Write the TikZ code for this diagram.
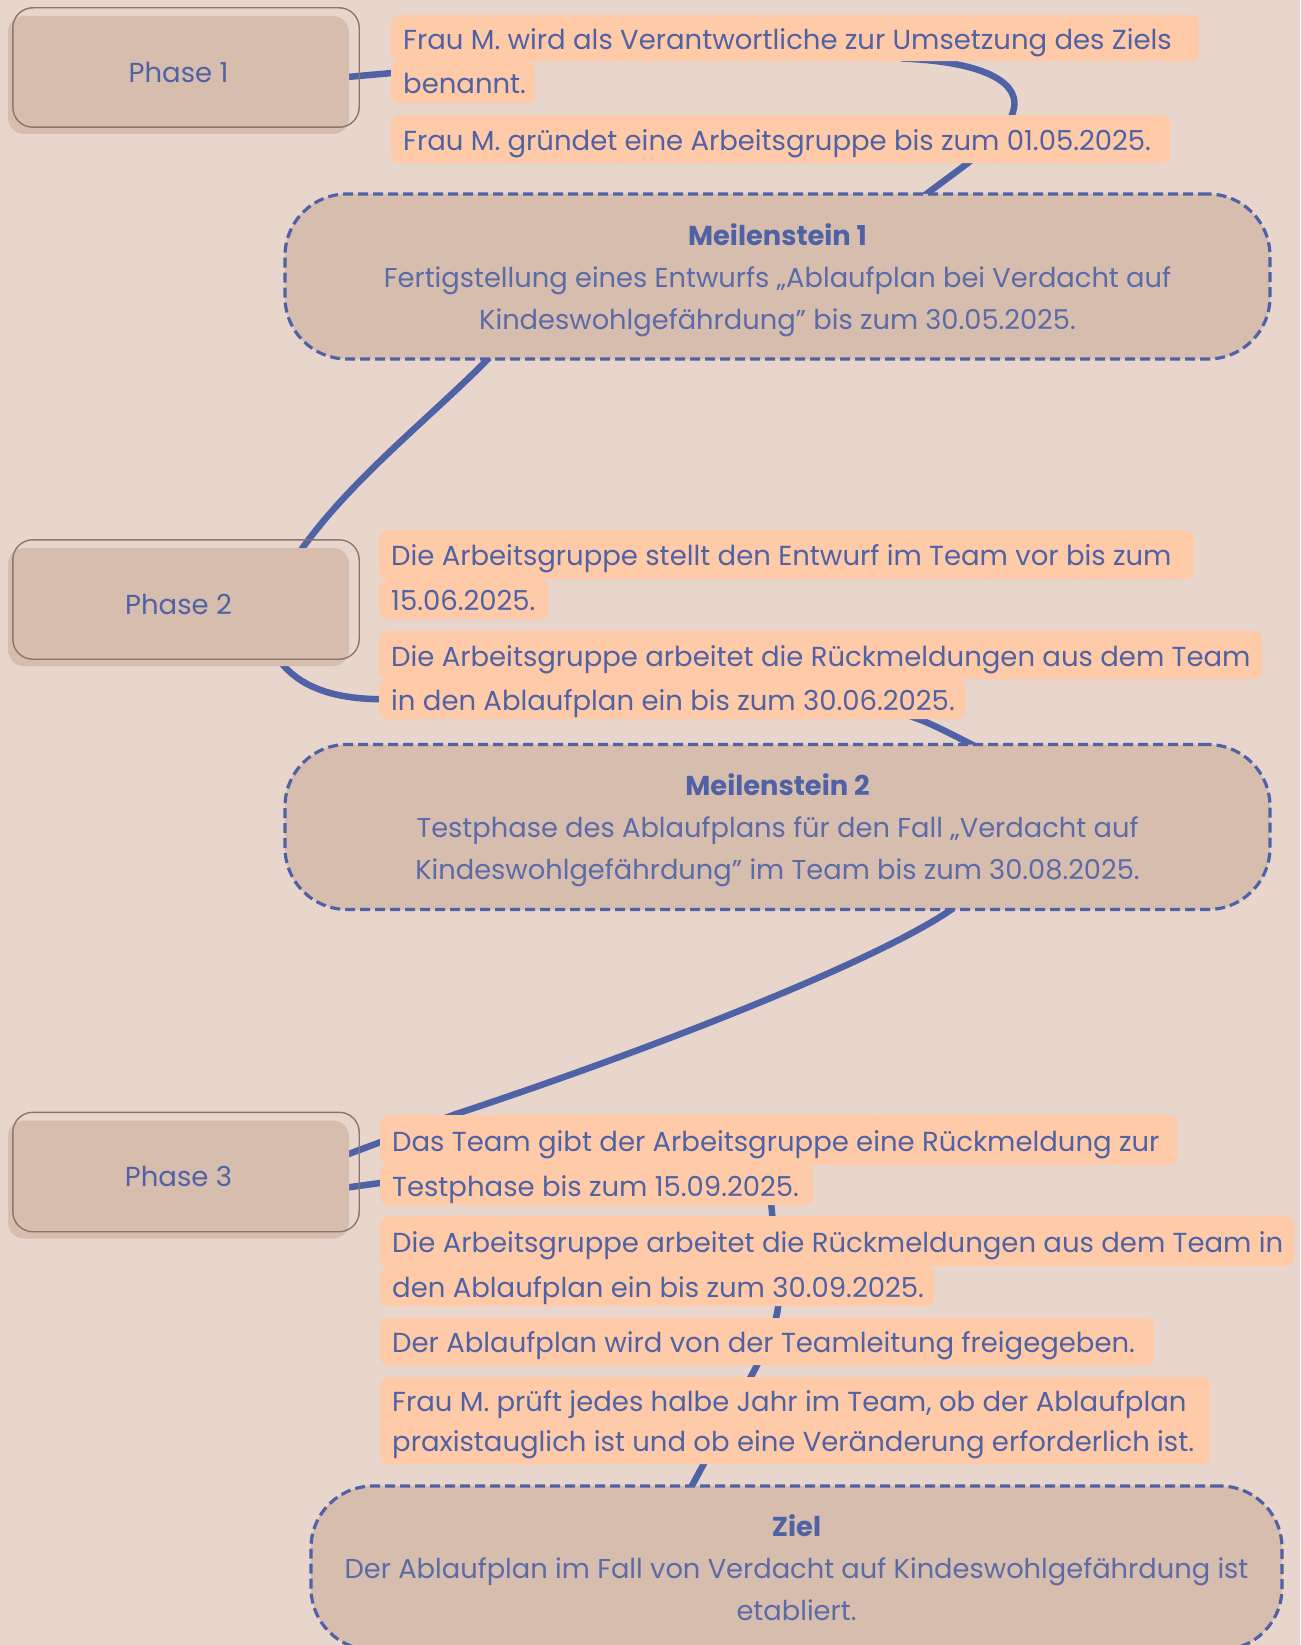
\documentclass[tikz,border=0pt]{standalone}
\usepackage{fontspec}
\setmainfont{Poppins}
\usetikzlibrary{calc}
\definecolor{bgc}{HTML}{E8D6CC}
\definecolor{boxc}{HTML}{D6BDAD}
\definecolor{peach}{HTML}{FFCAA8}
\definecolor{bluec}{HTML}{4F62A5}
\definecolor{brownc}{HTML}{8C756E}
\definecolor{subc}{HTML}{5A6BA8}
\pgfdeclarelayer{bglayer}
\pgfdeclarelayer{connlayer}
\pgfsetlayers{bglayer,connlayer,main}
\newcommand{\itemline}[2]{\makebox[#1][l]{\raisebox{-3pt}[\height][\depth]{\strut #2}}}
\newcommand{\phlabel}[1]{\raisebox{3pt}[\height][\depth]{#1}}
\begin{document}
\begin{tikzpicture}[x=1pt,y=-1pt,
 conn/.style={draw=bluec,line width=6.5pt},
 phasebox/.style={fill=boxc,rounded corners=16pt,minimum width=341pt,minimum height=118pt,text=bluec,font=\fontsize{27.5}{32}\selectfont},
 phaseline/.style={draw=brownc,line width=1.4pt,rounded corners=20pt},
 itembox/.style={fill=peach,rounded corners=8pt,anchor=north west,inner xsep=12pt,inner ysep=0pt,align=left,text=bluec,font=\fontsize{27.5}{40}\selectfont},
 mile/.style={fill=boxc,draw=bluec,line width=3.2pt,dash pattern=on 10pt off 5pt,rounded corners=62pt,minimum width=985pt,minimum height=165pt},
 miletext/.style={align=center,text=subc,font=\fontsize{27.3}{42}\selectfont},
]
\begin{pgfonlayer}{bglayer}
\fill[bgc] (0,0) rectangle (1300,1645);
\end{pgfonlayer}
\useasboundingbox (0,0) rectangle (1300,1645);

% Phase boxes
\node[phasebox] (p1) at (178.5,75) {\phlabel{Phase 1}};
\node[phasebox] (p2) at (178.5,607) {\phlabel{Phase 2}};
\node[phasebox] (p3) at (178.5,1179.5) {\phlabel{Phase 3}};
\foreach \p in {p1,p2,p3}{
  \draw[phaseline] ($(\p.north west)+(5,-8)$) rectangle ($(\p.south east)+(10,-7)$);
}

% Items phase 1
\node[itembox,minimum height=46pt] (b1a) at (391,15) {\itemline{784pt}{Frau M. wird als Verantwortliche zur Umsetzung des Ziels}};
\node[itembox,minimum height=42pt] (b1b) at (391,61) {\itemline{120pt}{benannt.}};
\node[itembox,minimum height=48pt] (b2) at (391,115) {\itemline{755pt}{Frau M. gründet eine Arbeitsgruppe bis zum 01.05.2025.}};

% Meilenstein 1
\node[mile] (m1) at (777.5,276.5) {};
\node[miletext] (m1t) at ($(m1.center)+(0,4)$) {{\bfseries\color{bluec}Meilenstein 1}\\Fertigstellung eines Entwurfs „Ablaufplan bei Verdacht auf\\Kindeswohlgefährdung” bis zum 30.05.2025.};

% Items phase 2
\node[itembox,minimum height=49pt] (b3a) at (379,530) {\itemline{791pt}{Die Arbeitsgruppe stellt den Entwurf im Team vor bis zum}};
\node[itembox,minimum height=40pt] (b3b) at (379,579) {\itemline{145pt}{15.06.2025.}};
\node[itembox,minimum height=48pt] (b4a) at (379,631) {\itemline{859pt}{Die Arbeitsgruppe arbeitet die Rückmeldungen aus dem Team}};
\node[itembox,minimum height=40pt] (b4b) at (379,679) {\itemline{562pt}{in den Ablaufplan ein bis zum 30.06.2025.}};

% Meilenstein 2
\node[mile] (m2) at (777.5,827) {};
\node[miletext] (m2t) at ($(m2.center)+(0,3)$) {{\bfseries\color{bluec}Meilenstein 2}\\Testphase des Ablaufplans für den Fall „Verdacht auf\\Kindeswohlgefährdung” im Team bis zum 30.08.2025.};

% Items phase 3
\node[itembox,minimum height=50pt] (b5a) at (380,1115) {\itemline{773pt}{Das Team gibt der Arbeitsgruppe eine Rückmeldung zur}};
\node[itembox,minimum height=38pt] (b5b) at (380,1165) {\itemline{409pt}{Testphase bis zum 15.09.2025.}};
\node[itembox,minimum height=50pt] (b6a) at (380,1216) {\itemline{890pt}{Die Arbeitsgruppe arbeitet die Rückmeldungen aus dem Team in}};
\node[itembox,minimum height=40pt] (b6b) at (380,1266) {\itemline{530pt}{den Ablaufplan ein bis zum 30.09.2025.}};
\node[itembox,minimum height=47pt] (b7) at (380,1318) {\itemline{750pt}{Der Ablaufplan wird von der Teamleitung freigegeben.}};
\node[itembox,minimum height=87pt] (b8) at (380,1377) {\itemline{806pt}{Frau M. prüft jedes halbe Jahr im Team, ob der Ablaufplan}\\\itemline{806pt}{praxistauglich ist und ob eine Veränderung erforderlich ist.}};

% Ziel
\node[mile,minimum width=971pt,minimum height=164pt] (ziel) at (796.5,1568) {};
\node[miletext] (zielt) at (ziel.center) {{\bfseries\color{bluec}Ziel}\\Der Ablaufplan im Fall von Verdacht auf Kindeswohlgefährdung ist\\etabliert.};

% Connectors
\begin{pgfonlayer}{connlayer}
\draw[conn] ($(p1.east)+(-2,2)$) -- ($(b1b.west)+(10,-10)$);
\draw[conn] ($(b1a.south west)+(510,-3)$) .. controls (990,62) and (1022,85) .. (1013,112)
  .. controls (1005,140) and (960,168) .. ($(m1.north west)+(640,4)$);
\draw[conn] ($(m1.south west)+(206,-3)$) .. controls (430,418) and (350,480) .. ($(p2.north west)+(292,4)$);
\draw[conn] ($(p2.south west)+(270,-8)$) .. controls (300,690) and (340,700) .. ($(b4b.west)+(10,0)$);
\draw[conn] ($(b4b.south west)+(490,-15)$) .. controls (920,718) .. ($(m2.north west)+(695,5)$);
\draw[conn] ($(m2.south west)+(670,-3)$) .. controls (880,960) and (650,1050) .. (456,1114) -- ($(p3.east)+(-2,-25)$);
\draw[conn] ($(p3.east)+(-2,8)$) -- ($(b5b.west)+(20,-5)$);
\draw[conn] ($(b5b.south west)+(390,-15)$) -- (779,1290) .. controls (780,1320) and (767,1345) .. (754,1371) -- ($(ziel.north west)+(380,6)$);
\end{pgfonlayer}
\end{tikzpicture}
\end{document}
